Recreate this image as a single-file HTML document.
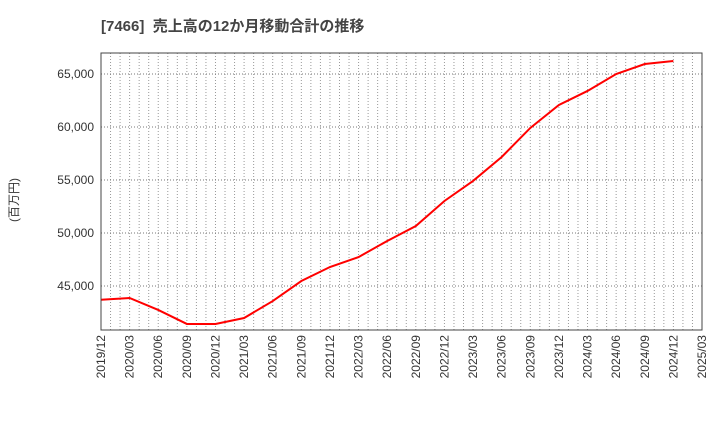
<!DOCTYPE html>
<html><head><meta charset="utf-8"><style>
body{margin:0;background:#fff;width:720px;height:440px;overflow:hidden;font-family:"Liberation Sans","Noto Sans CJK JP",sans-serif}
</style></head><body>
<svg id="c" width="720" height="440" xmlns="http://www.w3.org/2000/svg">
<text x="101" y="31" font-size="15" font-weight="bold" fill="#444" style="white-space:pre">[7466]  売上高の12か月移動合計の推移</text>
<text transform="translate(18,200) rotate(-90)" font-size="12" fill="#333" text-anchor="middle">(百万円)</text>
<g id="grid"></g><g id="axes"></g><g id="series"></g>
<rect x="101" y="53" width="601" height="277" fill="none" stroke="#444" stroke-width="1"/>
</svg>
<script>
const yTicks=[45000,50000,55000,60000,65000];
const xLabels=["2019/12","2020/03","2020/06","2020/09","2020/12","2021/03","2021/06","2021/09","2021/12","2022/03","2022/06","2022/09","2022/12","2023/03","2023/06","2023/09","2023/12","2024/03","2024/06","2024/09","2024/12","2025/03"];
const values=[43700,43870,42740,41420,41420,41980,43580,45470,46790,47730,49250,50660,53020,54910,57170,59910,62080,63400,65000,65940,66230];
const L=101,R=702,T=53,B=330,ymin=40849,ymax=66981;
function xs(i){return L+(R-L)*i/(xLabels.length-1);}
function ys(v){return B-(v-ymin)/(ymax-ymin)*(B-T);}
const NS="http://www.w3.org/2000/svg";
const grid=document.getElementById('grid'),axes=document.getElementById('axes'),ser=document.getElementById('series');
function mk(tag,a,p){const e=document.createElementNS(NS,tag);for(const k in a)e.setAttribute(k,a[k]);p.appendChild(e);return e;}
for(let m=1;m<(xLabels.length-1)*3;m++){const x=L+(R-L)*m/((xLabels.length-1)*3);
const g=mk('line',{x1:x,x2:x,y1:T,y2:B,stroke:'#999','stroke-dasharray':'1,2'},grid);

}
yTicks.forEach(v=>{const y=ys(v);
const g=mk('line',{x1:L,x2:R,y1:y,y2:y,stroke:'#777','stroke-dasharray':'1,2'},grid);


const t=mk('text',{x:L-7,y:y+4,'font-size':12,fill:'#333','text-anchor':'end'},axes);t.textContent=v.toLocaleString('en-US');

});
xLabels.forEach((s,i)=>{const x=xs(i);
const t=mk('text',{transform:`translate(${x+4},${B+5}) rotate(-90)`,'font-size':12,fill:'#333','text-anchor':'end'},axes);t.textContent=s;

});
const p=mk('polyline',{points:values.map((v,i)=>xs(i)+','+ys(v)).join(' '),fill:'none',stroke:'#f00','stroke-width':2},ser);


</script>
</body></html>
